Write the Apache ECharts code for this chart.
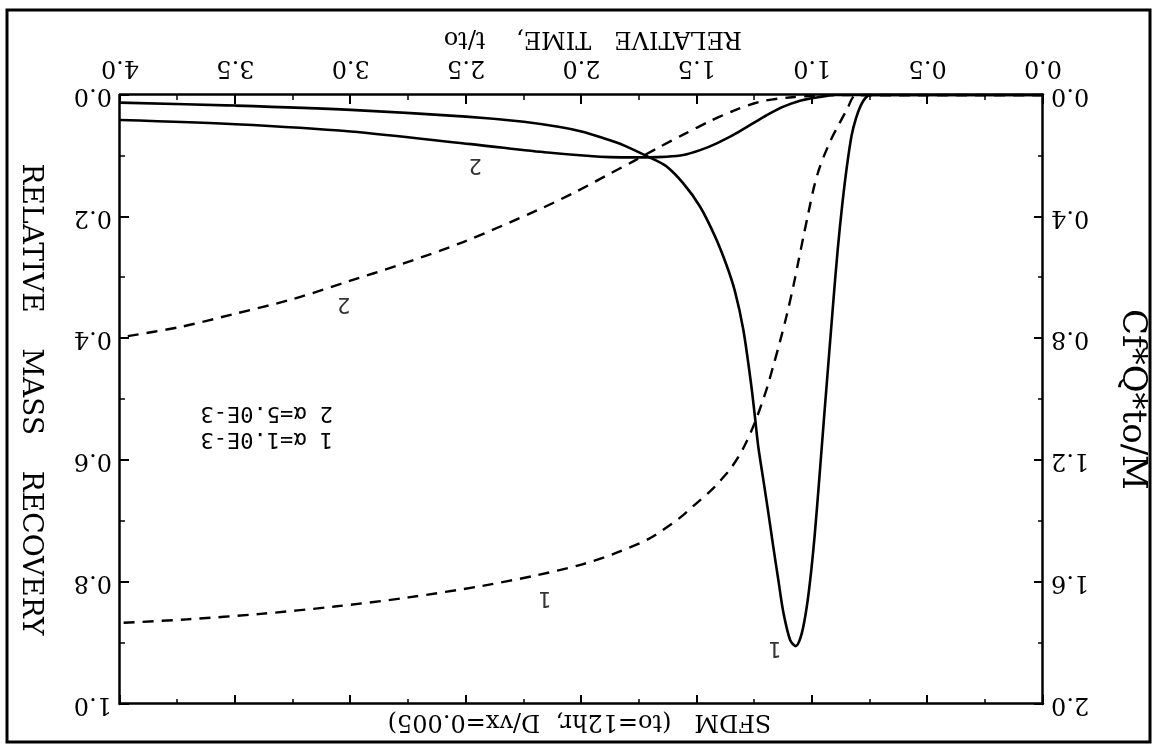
<!DOCTYPE html>
<html>
<head>
<meta charset="utf-8">
<script src="https://cdn.jsdelivr.net/npm/echarts@6/dist/echarts.min.js"></script>
<style>
  html, body { margin: 0; padding: 0; background: #fff; overflow: hidden; }
  /* the source figure is printed upside down, so the whole chart is turned 180 degrees */
  #main { width: 1159px; height: 745px; transform: rotate(180deg); }
</style>
</head>
<body>
<div id="main"></div>
<script>
// curve 1, concentration Cf*Q*to/M (left axis), alpha = 1.0E-3
var c1T = [0, 0.75, 0.77, 0.79, 0.81, 0.83, 0.85, 0.87, 0.89, 0.91, 0.93, 0.95, 0.97, 0.99, 1.01, 1.03, 1.05, 1.072, 1.096, 1.125, 1.147, 1.169, 1.19, 1.212, 1.234, 1.248, 1.265, 1.299, 1.335, 1.371, 1.421, 1.486, 1.559, 1.631, 1.71, 1.833, 1.92, 2.0, 2.1, 2.25, 2.5, 3.0, 3.5, 4.0];
var c1V = [0, 0, 0.01, 0.035, 0.075, 0.135, 0.235, 0.36, 0.51, 0.69, 0.88, 1.07, 1.265, 1.45, 1.6, 1.71, 1.78, 1.81, 1.79, 1.7, 1.593, 1.483, 1.374, 1.264, 1.155, 1.06, 0.95, 0.77, 0.645, 0.56, 0.465, 0.367, 0.29, 0.235, 0.203, 0.16, 0.138, 0.12, 0.104, 0.088, 0.071, 0.049, 0.035, 0.025];

// curve 2, concentration (left axis), alpha = 5.0E-3
var c2T = [0, 0.9, 0.981, 1.053, 1.125, 1.197, 1.27, 1.342, 1.414, 1.486, 1.559, 1.631, 1.71, 1.83, 1.92, 2.16, 2.5, 3.0, 3.5, 4.0];
var c2V = [0, 0, 0.008, 0.019, 0.038, 0.066, 0.099, 0.131, 0.159, 0.181, 0.197, 0.203, 0.205, 0.205, 0.203, 0.188, 0.16, 0.12, 0.096, 0.082];

// curve 1, relative mass recovery (right axis)
var r1T = [0, 0.807, 0.851, 0.887, 0.916, 0.949, 0.974, 0.995, 1.017, 1.039, 1.06, 1.082, 1.111, 1.14, 1.169, 1.197, 1.248, 1.299, 1.349, 1.4, 1.443, 1.516, 1.573, 1.7, 1.85, 2.0, 2.2, 2.43, 2.75, 3.07, 3.39, 3.71, 4.0];
var r1V = [0, 0, 0.025, 0.05, 0.071, 0.1, 0.126, 0.155, 0.194, 0.234, 0.273, 0.314, 0.362, 0.405, 0.445, 0.482, 0.537, 0.58, 0.611, 0.634, 0.651, 0.675, 0.694, 0.727, 0.752, 0.771, 0.789, 0.806, 0.825, 0.84, 0.852, 0.861, 0.867];

// curve 2, relative mass recovery (right axis)
var r2T = [0, 0.9, 1.0, 1.1, 1.226, 1.342, 1.443, 1.559, 1.66, 1.776, 1.876, 2.03, 2.19, 2.51, 2.79, 3.01, 3.25, 3.51, 3.74, 4.0];
var r2V = [0, 0, 0.0015, 0.004, 0.011, 0.026, 0.043, 0.065, 0.085, 0.109, 0.129, 0.16, 0.189, 0.241, 0.279, 0.306, 0.335, 0.36, 0.381, 0.398];

// curve number tags: [t, value, text]
var tagsLeft = [[1.161, 1.816, '1'], [2.46, 0.23, '2']];
var tagsRight = [[2.158, 0.826, '1'], [3.03, 0.342, '2']];

var legendLines = ['1 \u03b1=1.0E-3', '2 \u03b1=5.0E-3'];

function zip(xs, ys) {
  return xs.map(function (x, i) { return [x, ys[i]]; });
}

var serif = 'DejaVu Serif';
var mono = 'DejaVu Sans Mono';
var ink = '#000';

var chartDom = document.getElementById('main');
var myChart = echarts.init(chartDom, null, { renderer: 'canvas' });

function fmt(v) { return v.toFixed(1); }

function axisBase(extra) {
  var a = {
    type: 'value',
    axisLine: { show: true, onZero: false, lineStyle: { color: ink, width: 2.5 } },
    axisTick: { show: true, inside: true, length: 9, lineStyle: { color: ink, width: 2 } },
    minorTick: { show: true, splitNumber: 2, length: 5, lineStyle: { color: ink, width: 1.5 } },
    splitLine: { show: false },
    axisLabel: { color: ink, fontFamily: serif, fontSize: 24, formatter: fmt },
    nameTextStyle: { color: ink, fontFamily: serif, fontSize: 26 }
  };
  for (var k in extra) a[k] = extra[k];
  return a;
}

function curve(name, yIndex, xs, ys, dashed) {
  return {
    type: 'line', name: name, xAxisIndex: 0, yAxisIndex: yIndex,
    data: zip(xs, ys), showSymbol: false, smooth: 0.3,
    lineStyle: { color: ink, width: dashed ? 2.4 : 2.6, type: dashed ? [11, 8] : 'solid' }
  };
}

function tags(yIndex, list) {
  return {
    type: 'scatter', xAxisIndex: 0, yAxisIndex: yIndex, symbolSize: 0, silent: true,
    data: list.map(function (d) { return { value: [d[0], d[1]], name: d[2] }; }),
    label: { show: true, position: 'inside', formatter: '{b}', color: ink, fontFamily: mono, fontSize: 22 }
  };
}

var option = {
  animation: false,
  backgroundColor: '#fff',
  title: {
    text: 'SFDM   (to=12hr,  D/vx=0.005)',
    left: 'center',
    top: 7,
    textStyle: { color: ink, fontFamily: serif, fontSize: 24, fontWeight: 'normal' }
  },
  grid: { left: 116, right: 120, top: 41, bottom: 95 },
  xAxis: [
    axisBase({
      min: 0, max: 4, interval: 0.5, position: 'bottom',
      name: 'RELATIVE   TIME,    t/to   ', nameLocation: 'middle', nameGap: 44,
      nameTextStyle: { color: ink, fontFamily: serif, fontSize: 24 },
      axisLabel: { color: ink, fontFamily: serif, fontSize: 24, margin: 16, formatter: fmt }
    }),
    axisBase({
      min: 0, max: 4, interval: 0.5, position: 'top',
      axisLabel: { show: false }
    })
  ],
  yAxis: [
    axisBase({
      min: 0, max: 2, interval: 0.4, position: 'left',
      name: 'Cf*Q*to/M', nameLocation: 'middle', nameRotate: 90, nameGap: 72,
      nameTextStyle: { color: ink, fontFamily: serif, fontSize: 34 }
    }),
    axisBase({
      min: 0, max: 1, interval: 0.2, position: 'right',
      name: 'RELATIVE    MASS    RECOVERY', nameLocation: 'middle', nameRotate: 90, nameGap: 76,
      nameTextStyle: { color: ink, fontFamily: serif, fontSize: 28 }
    })
  ],
  series: [
    curve('c1', 0, c1T, c1V, false),
    curve('c2', 0, c2T, c2V, false),
    curve('r1', 1, r1T, r1V, true),
    curve('r2', 1, r2T, r2V, true),
    tags(0, tagsLeft),
    tags(1, tagsRight)
  ],
  graphic: [
    {
      type: 'rect', silent: true,
      shape: { x: 9, y: 3, width: 1143, height: 732 },
      style: { fill: 'none', stroke: ink, lineWidth: 3 }
    },
    {
      type: 'text', left: 826, top: 295, silent: true,
      style: { text: legendLines[0], fill: ink, font: '22px "' + mono + '"' }
    },
    {
      type: 'text', left: 826, top: 321, silent: true,
      style: { text: legendLines[1], fill: ink, font: '22px "' + mono + '"' }
    }
  ]
};

myChart.setOption(option);
</script>
</body>
</html>
